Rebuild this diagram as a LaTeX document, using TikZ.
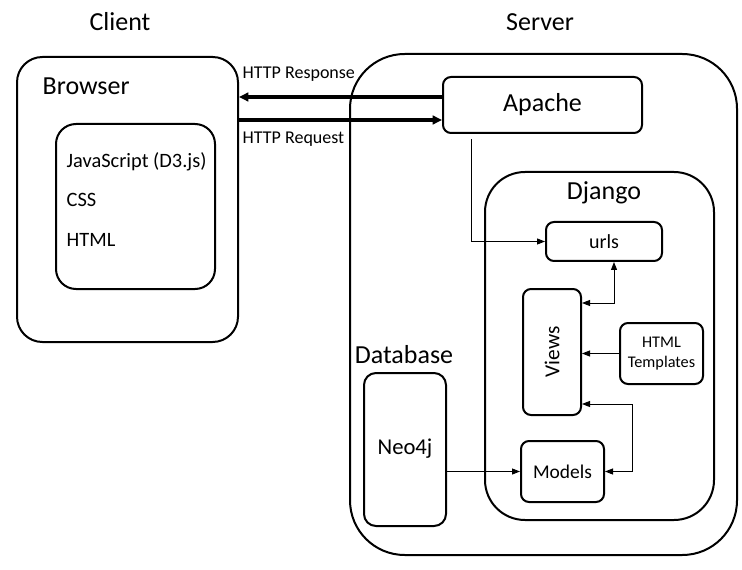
\documentclass[tikz,border=0pt]{standalone}
\usepackage{fontspec}
\setmainfont{Carlito}
\usetikzlibrary{arrows.meta}
\begin{document}
\begin{tikzpicture}[x=0.75pt,y=-0.75pt,>={Triangle[length=6pt,width=4.5pt]},
	box/.style={draw,line width=1.5pt,rounded corners=6pt,align=center,inner sep=0pt},
	big/.style={font=\fontsize{19.5}{23}\selectfont},
	link/.style={line width=0.75pt},
	http/.style={line width=2.6pt,-{Triangle[length=7pt,width=6.5pt]}}]
	\useasboundingbox (0,0) rectangle (742,570);
	\node[big] (client) at (120,22) {Client};
	\node[big] (server) at (540,22) {Server};
	% client side
	\node[box,rounded corners=19pt,minimum width=165.75pt,minimum height=213.75pt] (browser) at (127.5,199.5) {};
	\node[big,anchor=west] (browsertxt) at (38,86) {Browser};
	\node[box,rounded corners=15pt,minimum width=119.25pt,minimum height=123.75pt] (files) at (135.5,206.5) {};
	\node[anchor=west,font=\fontsize{15.3}{18}\selectfont] (js) at (62,162) {JavaScript (D3.js)};
	\node[anchor=west,font=\fontsize{15.3}{18}\selectfont] (css) at (62,200) {CSS};
	\node[anchor=west,font=\fontsize{15.3}{18}\selectfont] (html) at (62,240) {HTML};
	% server side
	\node[box,rounded corners=41pt,minimum width=290.25pt,minimum height=375.75pt] (srv) at (543.5,304.5) {};
	\node[box,minimum width=149.25pt,minimum height=42pt,big] (apache) at (542.5,105) {Apache};
	\node[box,rounded corners=30pt,minimum width=171.75pt,minimum height=261pt] (django) at (599.5,346) {};
	\node[big] (djangotxt) at (604,193) {Django};
	\node[box,minimum width=87pt,minimum height=29.25pt,font=\fontsize{15}{17}\selectfont] (urls) at (604,241.5) {urls};
	\node[box,minimum width=43.5pt,minimum height=94.5pt] (views) at (552,352) {};
	\node[rotate=90,font=\fontsize{16}{18}\selectfont] (viewstxt) at (views.center) {Views};
	\node[box,minimum width=62.25pt,minimum height=45.75pt,font=\fontsize{12.2}{15.5}\selectfont] (templates) at (661.5,353.5) {HTML\\Templates};
	\node[box,minimum width=62.25pt,minimum height=45.75pt,font=\fontsize{14.6}{17}\selectfont] (models) at (562.5,471.5) {Models};
	\node[big] (dbtxt) at (404,355) {Database};
	\node[box,rounded corners=9pt,minimum width=61.5pt,minimum height=114.75pt,font=\fontsize{17}{19}\selectfont] (neo4j) at (405,449.5) {\raisebox{4.5pt}{Neo4j}};
	% connectors
	\draw[http] (apache.west |- 0,97) -- (browser.east |- 0,97);
	\draw[http] (browser.east |- 0,120) -- (apache.west |- 0,120);
	\node[anchor=west,font=\fontsize{13.5}{15}\selectfont] (resp) at (238,74) {HTTP Response};
	\node[anchor=west,font=\fontsize{13.5}{15}\selectfont] (req) at (238,139) {HTTP Request};
	\coordinate (tap) at (471,139);
	\draw[link,->] (tap) |- (urls.west);
	\draw[link,<->] (views.east |- 0,303) -| (urls.south -| 614,0);
	\draw[link,->] (templates.west) -- (views.east |- templates.west);
	\coordinate (vmbend) at (632,471.5);
	\draw[link,<->] (views.east |- 0,404) -| (vmbend) -- (models.east);
	\draw[link,->] (neo4j.east |- models.west) -- (models.west);
\end{tikzpicture}
\end{document}
